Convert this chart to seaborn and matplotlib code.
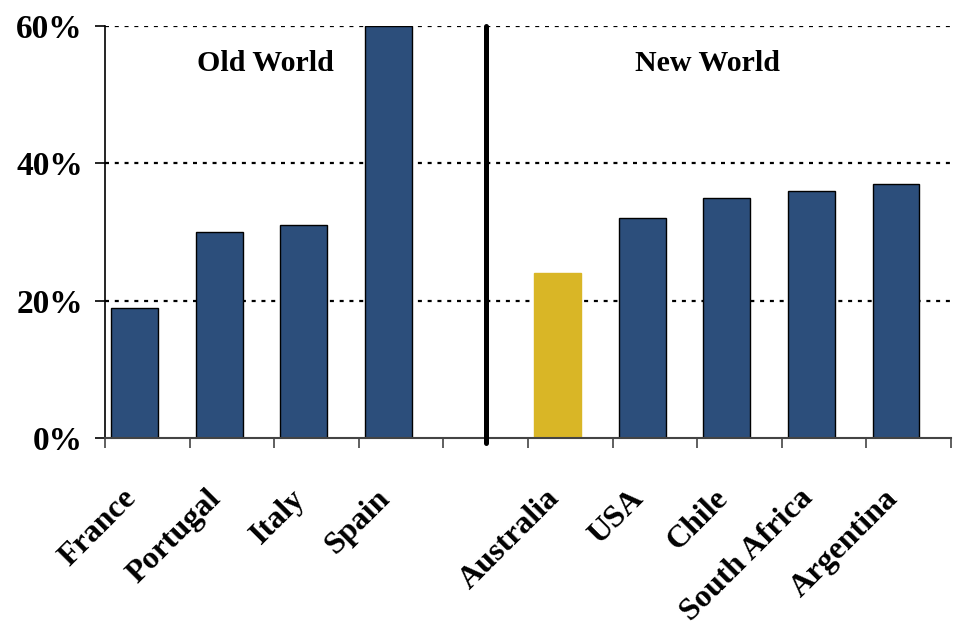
import matplotlib
matplotlib.use("Agg")
import matplotlib.pyplot as plt
import matplotlib.transforms as mtransforms
import seaborn as sns
import pandas as pd
import numpy as np

# ---- data ----
old_world = ["France", "Portugal", "Italy", "Spain"]
old_values = [19, 30, 31, 60]
new_world = ["Australia", "USA", "Chile", "South Africa", "Argentina"]
new_values = [24, 32, 35, 36, 37]
y_ticks = [0, 20, 40, 60]
y_tick_labels = ["0%", "20%", "40%", "60%"]
highlight = "Australia"

countries = old_world + new_world
values = old_values + new_values
order = old_world + [" "] + new_world  # empty slot between groups

df = pd.DataFrame({"country": countries, "share": values})

NAVY = "#2C4E7B"
GOLD = "#D9B626"
palette = {c: (GOLD if c == highlight else NAVY) for c in countries}

sns.set_style("white")
plt.rcParams["font.family"] = ["Liberation Serif", "DejaVu Serif"]
plt.rcParams["font.weight"] = "bold"
plt.rcParams["text.color"] = "black"
plt.rcParams["xtick.color"] = "black"
plt.rcParams["ytick.color"] = "black"
plt.rcParams["xtick.labelcolor"] = "black"
plt.rcParams["ytick.labelcolor"] = "black"

fig = plt.figure(figsize=(9.57, 6.29), dpi=100)
ax = fig.add_axes([0.1097, 0.3037, 0.9937 - 0.1097, 0.9587 - 0.3037])

sns.barplot(data=df, x="country", y="share", order=order, hue="country",
            palette=palette, width=0.555, dodge=False, legend=False,
            saturation=1, edgecolor="black", linewidth=1.0, ax=ax)

for p in ax.patches:
    fc = p.get_facecolor()
    if np.allclose(fc[:3], matplotlib.colors.to_rgb(GOLD), atol=0.02):
        p.set_edgecolor(GOLD)

ax.set_ylim(0, 60)
ax.set_xlim(-0.35, len(order) - 0.35)

# grid lines
for yv in y_ticks[1:]:
    ax.axhline(yv, color="black", linestyle=(0, (1.8, 2.6)), linewidth=1.6, zorder=0.5)

ax.set_yticks(y_ticks)
ax.set_yticklabels(y_tick_labels, fontsize=24, fontweight="bold")
ax.tick_params(axis="y", direction="out", length=7, width=1.2, pad=9, left=True,
               labelcolor="black")

ax.set_xticks(range(len(order)))
ax.set_xticklabels(order, rotation=45, ha="right", va="top", rotation_mode="anchor",
                   fontsize=23, fontweight="bold")
ax.tick_params(axis="x", which="major", length=0, pad=33, labelcolor="black")
shift = mtransforms.ScaledTranslation(-13 / 100, 0, fig.dpi_scale_trans)
for lbl in ax.get_xticklabels():
    lbl.set_transform(lbl.get_transform() + shift)
ax.set_xticks(np.arange(len(order) + 1) - 0.35, minor=True)
ax.tick_params(axis="x", which="minor", direction="out", length=7, width=1.2,
               color="#444444", bottom=True)

ax.set_xlabel("")
ax.set_ylabel("")

for s in ["top", "right"]:
    ax.spines[s].set_visible(False)
ax.spines["left"].set_color("black")
ax.spines["left"].set_linewidth(1.2)
ax.spines["bottom"].set_color("#444444")
ax.spines["bottom"].set_linewidth(1.5)

# divider between groups
gap_idx = order.index(" ")
ax.axvline(gap_idx + 0.15, ymin=-0.012, ymax=1, color="black", linewidth=3.6,
           clip_on=False, zorder=3)

ax.text(1.55, 54.6, "Old World", ha="center", va="center", fontsize=21.5, fontweight="bold")
ax.text(6.77, 54.6, "New World", ha="center", va="center", fontsize=21.5, fontweight="bold")

fig.savefig("out.png", dpi=100)
